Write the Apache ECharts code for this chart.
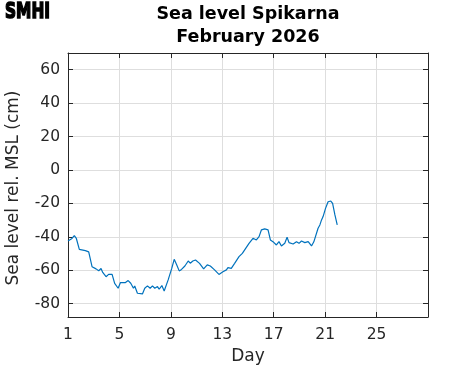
<!DOCTYPE html>
<html><head><meta charset="utf-8">
<script src="https://cdn.jsdelivr.net/npm/echarts@6/dist/echarts.min.js"></script>
<style>html,body{margin:0;padding:0;background:#fff}#c{width:471px;height:371px}</style>
</head><body><div id="c"></div>
<script>
const days = [1.00,1.31,1.49,1.65,1.88,2.35,2.61,2.87,3.18,3.39,3.57,3.70,3.96,4.16,4.43,4.63,4.90,5.08,5.47,5.68,5.88,6.09,6.19,6.40,6.53,6.79,6.97,7.18,7.39,7.57,7.75,7.96,8.09,8.30,8.48,8.79,9.07,9.26,9.46,9.65,9.83,10.09,10.35,10.51,10.71,10.92,11.23,11.55,11.83,12.07,12.40,12.74,13.05,13.32,13.44,13.70,13.96,14.30,14.56,14.82,15.08,15.39,15.65,15.86,16.04,16.30,16.56,16.74,17.00,17.21,17.41,17.60,17.86,18.04,18.19,18.51,18.77,18.97,19.16,19.42,19.68,19.94,20.12,20.45,20.59,20.72,20.84,21.03,21.23,21.44,21.58,21.76,21.94];
const levels = [-42.5,-41,-39.3,-41,-47.5,-48.3,-49,-57.9,-59.2,-60.3,-59,-61.3,-63.9,-62.5,-62.5,-67.9,-70.8,-67.4,-67.4,-66.2,-67.8,-70.8,-69.4,-73.8,-74.8,-74.2,-70.8,-69.4,-70.8,-69.4,-70.8,-69.8,-71.4,-69.2,-72.4,-65.8,-58.9,-53.5,-56.9,-60.4,-59.5,-57.5,-54.5,-55.8,-54.5,-53.9,-55.9,-59.2,-56.8,-57.5,-59.8,-62.5,-60.9,-59.8,-58.5,-58.9,-55.9,-51.9,-49.9,-46.9,-43.9,-40.9,-41.9,-39.9,-35.9,-35.3,-35.9,-41.9,-43.3,-44.9,-42.9,-45.5,-43.9,-40.3,-43.5,-44.3,-42.9,-43.9,-42.5,-43.5,-42.9,-45.5,-43,-34.9,-32.9,-29.9,-27.9,-23,-19,-18.6,-20,-26.9,-32.9];
const xTicks = [1,5,9,13,17,21,25];
const yTicks = [-80,-60,-40,-20,0,20,40,60];
const titleLines = ['Sea level Spikarna','February 2026'];
const xName = 'Day';
const yName = 'Sea level rel. MSL (cm)';

const axisCol = '#262626';
const chart = echarts.init(document.getElementById('c'), null, {renderer:'canvas'});
const font = 'DejaVu Sans';
const baseX = (pos, show) => ({
  type:'value', min:1, max:29, position:pos,
  axisLine:{show:true, onZero:false, lineStyle:{color:axisCol, width:1}},
  axisTick:{show:true, inside:true, length:5, customValues:xTicks, lineStyle:{color:axisCol}},
  axisLabel:{show:show, customValues:xTicks, color:axisCol, fontFamily:font, fontSize:15.5, margin:10},
  splitLine:{show:show, lineStyle:{color:'#dedede', width:1}}
});
const baseY = (pos, show) => ({
  type:'value', min:-88, max:70, position:pos,
  axisLine:{show:true, onZero:false, lineStyle:{color:axisCol, width:1}},
  axisTick:{show:true, inside:true, length:5, customValues:yTicks, lineStyle:{color:axisCol}},
  axisLabel:{show:show, customValues:yTicks, color:axisCol, fontFamily:font, fontSize:15.5, margin:8},
  splitLine:{show:show, lineStyle:{color:'#dedede', width:1}}
});
chart.setOption({
  animation:false,
  backgroundColor:'#fff',
  grid:{left:68, top:53, width:360, height:264, containLabel:false},
  xAxis:[baseX('bottom', true), baseX('top', false)],
  yAxis:[baseY('left', true), baseY('right', false)],
  graphic:[
    {type:'text', x:248, y:14, style:{text:titleLines[0], font:'bold 17.5px "DejaVu Sans"', fill:'#000', align:'center', verticalAlign:'middle'}},
    {type:'text', x:248, y:37, style:{text:titleLines[1], font:'bold 17.5px "DejaVu Sans"', fill:'#000', align:'center', verticalAlign:'middle'}},
    {type:'text', x:248, y:357, style:{text:xName, font:'17px "DejaVu Sans"', fill:axisCol, align:'center', verticalAlign:'middle'}},
    {type:'text', x:14, y:188, rotation:Math.PI/2, style:{text:yName, font:'17px "DejaVu Sans"', fill:axisCol, align:'center', verticalAlign:'middle'}},
    {type:'text', x:5, y:12.5, scaleX:0.7, style:{text:'SMHI', font:'bold 22px "DejaVu Sans"', fill:'#000', stroke:'#000', lineWidth:1.6, align:'left', verticalAlign:'middle'}}
  ],
  series:[{
    type:'line', xAxisIndex:0, yAxisIndex:0, showSymbol:false, symbol:'none',
    data: days.map((d,i)=>[d, levels[i]]),
    lineStyle:{color:'#0072BD', width:1.2}
  }]
});
</script></body></html>
